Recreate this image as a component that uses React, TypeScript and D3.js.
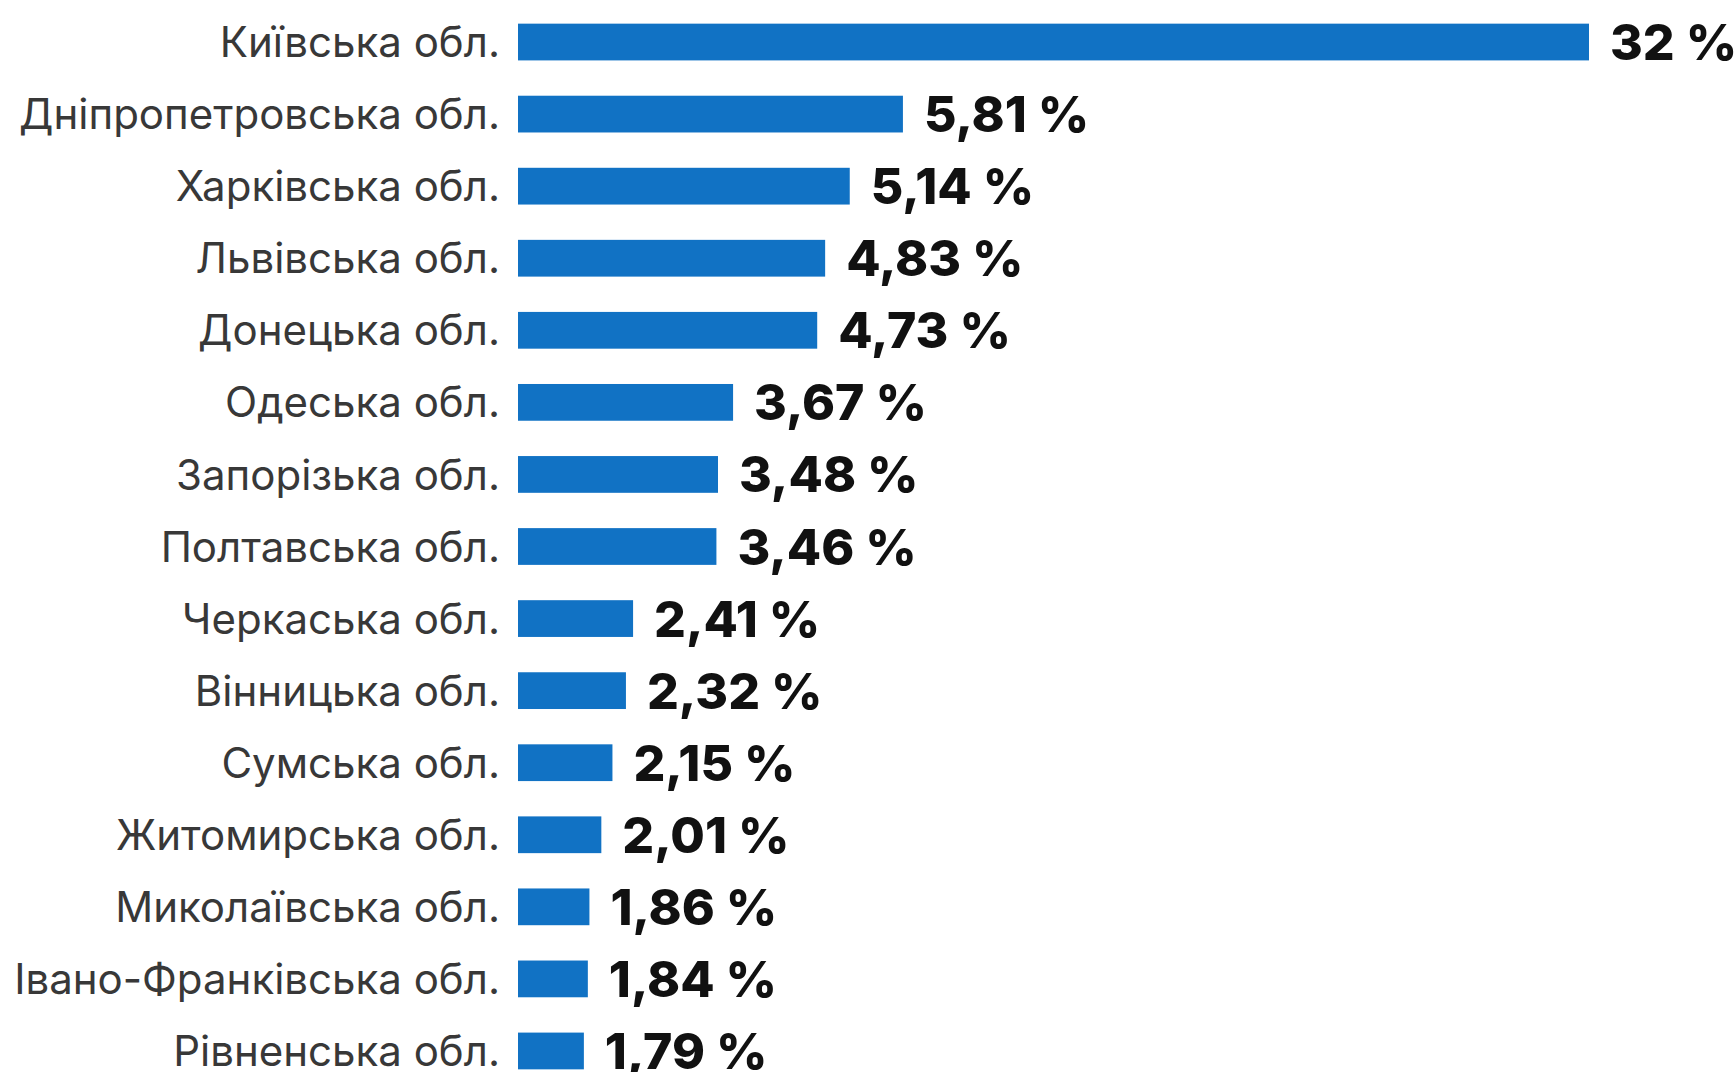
import React from "react";
import * as d3 from "d3";

const regions = [
  "Київська обл.",
  "Дніпропетровська обл.",
  "Харківська обл.",
  "Львівська обл.",
  "Донецька обл.",
  "Одеська обл.",
  "Запорізька обл.",
  "Полтавська обл.",
  "Черкаська обл.",
  "Вінницька обл.",
  "Сумська обл.",
  "Житомирська обл.",
  "Миколаївська обл.",
  "Івано-Франківська обл.",
  "Рівненська обл.",
];

const shares = [32, 5.81, 5.14, 4.83, 4.73, 3.67, 3.48, 3.46, 2.41, 2.32, 2.15, 2.01, 1.86, 1.84, 1.79];

// broken scale: the top bar is shortened as in the original infographic
const scaleDomain = [0.96, 6, 32];

const W = 1736;
const H = 1072;
const BAR_X0 = 518;
const BLUE = "#1172c4";

const fmt = (v: number) => `${String(v).replace(".", ",")} %`;

export default function App() {
  const x = d3
    .scaleLinear()
    .domain(scaleDomain)
    .range([BAR_X0, BAR_X0 + 400, BAR_X0 + 1071]);

  const y = d3
    .scaleBand<string>()
    .domain(regions)
    .range([6, 1087])
    .paddingInner(0.49)
    .paddingOuter(0.245);

  const bw = y.bandwidth();

  return (
    <svg
      width={W}
      height={H}
      viewBox={`0 0 ${W} ${H}`}
      style={{ position: "absolute", left: 0, top: 0, background: "#fff" }}
    >
      <rect x={0} y={0} width={W} height={H} fill="#fff" />
      {regions.map((r, i) => {
        const yy = y(r) as number;
        const cy = yy + bw / 2;
        const v = shares[i];
        return (
          <g key={r}>
            <text
              x={500}
              y={cy}
              dy="0.36em"
              textAnchor="end"
              fontFamily="Inter, 'Open Sans', sans-serif"
              fontWeight={400}
              fontSize={42}
              fill="#383838"
            >
              {r}
            </text>
            <rect x={x.range()[0]} y={yy} width={x(v) - x.range()[0]} height={bw} fill={BLUE} />
            <text
              x={x(v) + 21}
              y={cy}
              dy="0.36em"
              fontFamily="Inter, 'Open Sans', sans-serif"
              fontWeight={800}
              fontSize={50}
              fill="#111"
            >
              {fmt(v)}
            </text>
          </g>
        );
      })}
    </svg>
  );
}
